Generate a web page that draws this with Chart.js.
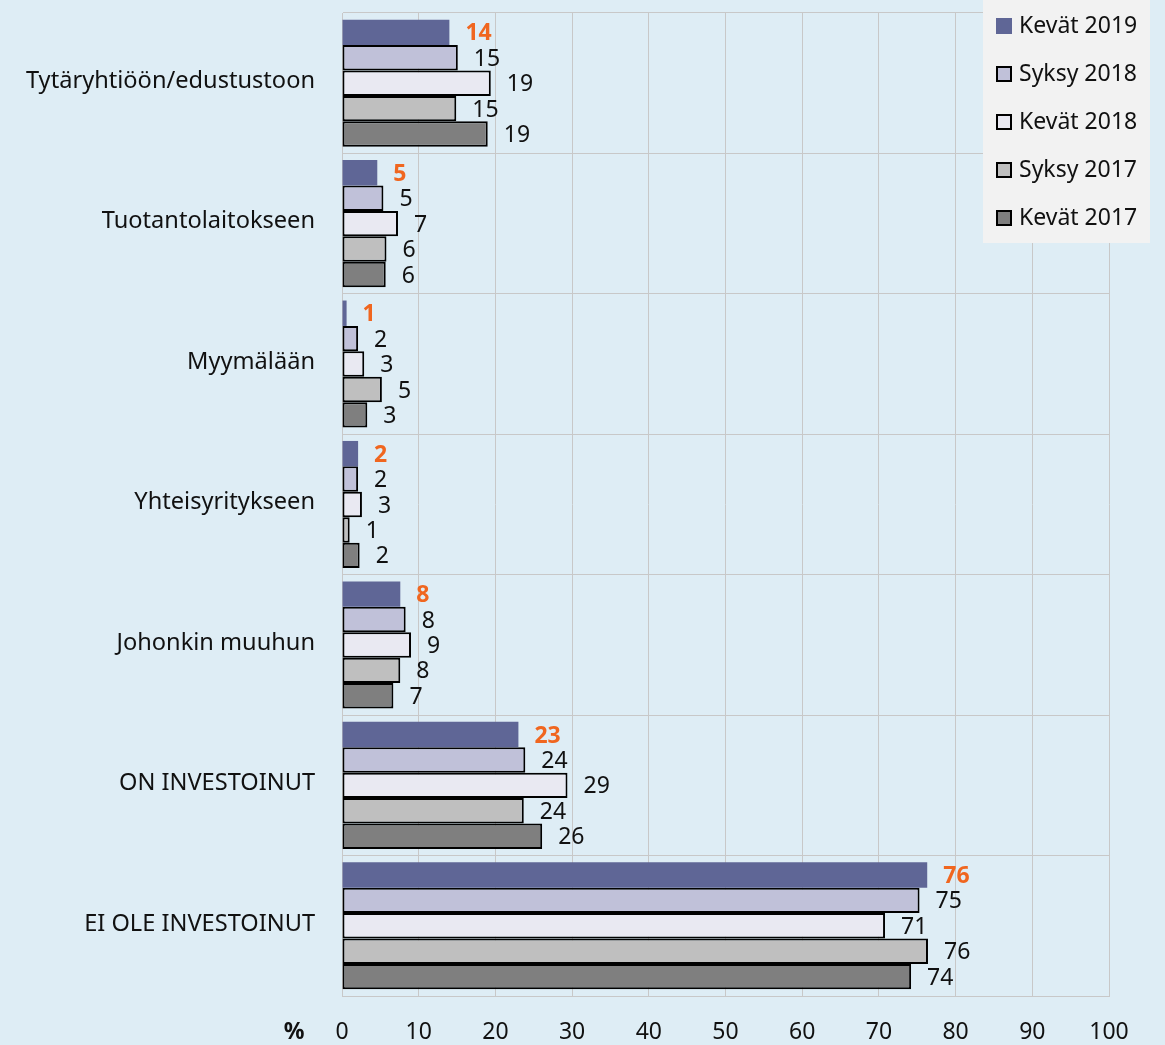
<!DOCTYPE html>
<html>
<head>
<meta charset="utf-8">
<script src="https://cdn.jsdelivr.net/npm/chart.js@4/dist/chart.umd.min.js"></script>
<style>
  html, body { margin: 0; padding: 0; background: #deedf5; }
  #wrap { position: relative; width: 1165px; height: 1045px; }
</style>
</head>
<body>
<div id="wrap"><canvas id="c"></canvas></div>
<script>
const categories = ['Tytäryhtiöön/edustustoon','Tuotantolaitokseen','Myymälään','Yhteisyritykseen','Johonkin muuhun','ON INVESTOINUT','EI OLE INVESTOINUT'];
const seriesNames = ['Kevät 2019','Syksy 2018','Kevät 2018','Syksy 2017','Kevät 2017'];
const kevat2019 = [14.0, 4.6, 0.6, 2.1, 7.6, 23.0, 76.3];
const syksy2018 = [15.1, 5.4, 2.1, 2.1, 8.3, 23.9, 75.3];
const kevat2018 = [19.4, 7.3, 2.9, 2.6, 9.0, 29.4, 70.8];
const syksy2017 = [14.9, 5.8, 5.2, 1.0, 7.6, 23.7, 76.4];
const kevat2017 = [19.0, 5.7, 3.3, 2.3, 6.7, 26.1, 74.2];
const xTicks = [0,10,20,30,40,50,60,70,80,90,100];

const FONT = '"Noto Sans", sans-serif';
const fills = ['#5f6696','#c0c1d9','#e9e9f2','#bfbfbf','#7f7f7f'];
const borders = [0,2,2,2,2];
const allSeries = [kevat2019, syksy2018, kevat2018, syksy2017, kevat2017];

const datasets = allSeries.map((d,i)=>({
  label: seriesNames[i],
  data: d,
  backgroundColor: fills[i],
  borderColor: '#000000',
  borderWidth: borders[i],
  borderSkipped: false,
  categoryPercentage: 0.905,
  barPercentage: 1.0
}));

const labelPlugin = {
  id: 'valueLabels',
  afterDatasetsDraw(chart) {
    const ctx = chart.ctx;
    ctx.save();
    ctx.textAlign = 'left';
    ctx.textBaseline = 'middle';
    chart.data.datasets.forEach((ds, di) => {
      const meta = chart.getDatasetMeta(di);
      meta.data.forEach((bar, i) => {
        const v = ds.data[i];
        if (di === 0) { ctx.font = 'bold 23px ' + FONT; ctx.fillStyle = '#f0661f'; }
        else { ctx.font = '23px ' + FONT; ctx.fillStyle = '#111111'; }
        ctx.fillText(String(Math.round(v)), bar.x + 16, bar.y + 1.5);
      });
    });
    ctx.restore();
  },
  afterDraw(chart) {
    const ctx = chart.ctx;
    ctx.save();
    ctx.font = 'bold 23px ' + FONT;
    ctx.fillStyle = '#111111';
    ctx.textAlign = 'center';
    ctx.textBaseline = 'middle';
    ctx.fillText('%', 294, 1032);
    ctx.fillStyle = '#f2f2f2';
    ctx.fillRect(983, 0, 167, 243);
    chart.data.datasets.forEach((ds, i) => {
      const cy = 26 + 48 * i;
      ctx.fillStyle = ds.backgroundColor;
      ctx.fillRect(996, cy - 8, 16, 16);
      if (ds.borderWidth > 0) {
        ctx.strokeStyle = '#000';
        ctx.lineWidth = 2;
        ctx.strokeRect(997, cy - 7, 14, 14);
      }
      ctx.fillStyle = '#111111';
      ctx.font = '23px ' + FONT;
      ctx.textAlign = 'left';
      ctx.textBaseline = 'middle';
      ctx.fillText(ds.label, 1019, cy);
    });
    ctx.restore();
  }
};

new Chart(document.getElementById('c'), {
  type: 'bar',
  data: { labels: categories, datasets },
  plugins: [labelPlugin],
  options: {
    indexAxis: 'y',
    responsive: true,
    maintainAspectRatio: false,
    animation: false,
    events: [],
    layout: { padding: { top: 13, right: 56, left: 0, bottom: 0 } },
    plugins: { legend: { display: false }, tooltip: { enabled: false } },
    scales: {
      x: {
        min: 0, max: 100,
        afterBuildTicks(axis) { axis.ticks = xTicks.map(v => ({ value: v })); },
        afterFit(axis) { axis.height = 49; axis.paddingTop = 0; axis.paddingBottom = 0; },
        grid: { color: '#c8c8c8', lineWidth: 1, drawTicks: false },
        border: { color: '#c8c8c8' },
        ticks: { font: { family: FONT, size: 23 }, color: '#111111', padding: 23, maxRotation: 0 }
      },
      y: {
        afterFit(axis) { axis.width = 342; axis.paddingTop = 0; axis.paddingBottom = 0; },
        grid: { color: '#c8c8c8', lineWidth: 1, drawTicks: false, offset: true },
        border: { color: '#c8c8c8' },
        ticks: { font: { family: FONT, size: 23.6 }, color: '#111111', padding: 27, labelOffset: -2 }
      }
    }
  }
});
</script>
</body>
</html>
